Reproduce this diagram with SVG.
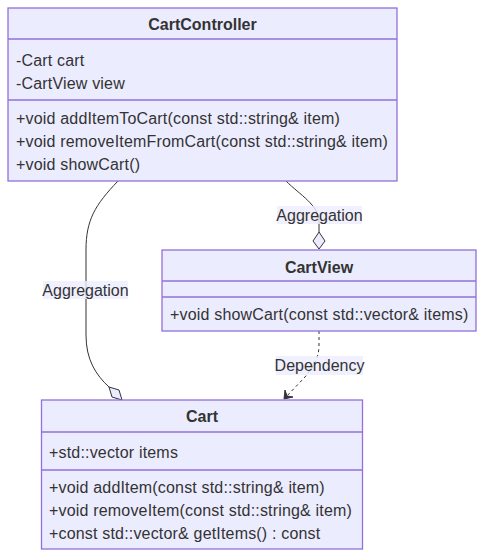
<svg xmlns="http://www.w3.org/2000/svg" width="484" height="558" viewBox="0 0 484 558">
<style>
.box{fill:#ECECFF;stroke:#9370DB;stroke-width:1.3}
.div{stroke:#9370DB;stroke-width:1.3}
text{font-family:"Liberation Sans",Arial,sans-serif;font-size:16px;fill:#333}
.m{letter-spacing:0.18px}
.t{font-weight:bold;text-anchor:middle}
.edge{fill:none;stroke:#333;stroke-width:1}
.dash{stroke-dasharray:3,3}
.lbg{fill:#ECECFF;opacity:0.8}
.lbl{text-anchor:middle}
</style>
<rect width="484" height="558" fill="#fff"/>
<g id="connectors">
<path class="edge" d="M118,181 C95,205 86,220 86,250 L86,335 C86,360 96,375 109,387"/>
<polygon points="109,387 119,390 122,400 112,397" fill="#ECECFF" stroke="#333" stroke-width="1"/>
<path class="edge" d="M286,181 C300,195 319,205 319,222 L319,232"/>
<polygon points="319,232 325,241 319,249 313,241" fill="#ECECFF" stroke="#333" stroke-width="1"/>
<path class="edge dash" d="M319,331 L319,345 C319,360 312,368 305,377 L285,398"/>
<path d="M285,390 L284,399 L293,397 L287,396 Z" fill="#333" stroke="#333" stroke-width="1"/>
<g id="lbl-agg1"><rect class="lbg" x="43" y="281" width="85" height="18"/><text class="lbl" x="85.5" y="296">Aggregation</text></g>
<g id="lbl-agg2"><rect class="lbg" x="277" y="206" width="85" height="18"/><text class="lbl" x="319.5" y="221">Aggregation</text></g>
<g id="lbl-dep"><rect class="lbg" x="276" y="356" width="87" height="19"/><text class="lbl" x="319.5" y="371">Dependency</text></g>
</g>
<g id="CartController">
<rect class="box" x="8" y="8" width="389" height="173"/>
<line class="div" x1="8" y1="39" x2="397" y2="39"/>
<line class="div" x1="8" y1="100" x2="397" y2="100"/>
<text class="t" x="202.5" y="30">CartController</text>
<text class="m" x="16" y="66">-Cart cart</text>
<text class="m" x="16" y="89">-CartView view</text>
<text class="m" x="16" y="124">+void addItemToCart(const std::string&amp; item)</text>
<text class="m" x="16" y="147">+void removeItemFromCart(const std::string&amp; item)</text>
<text class="m" x="16" y="170">+void showCart()</text>
</g>
<g id="CartView">
<rect class="box" x="162" y="250" width="314" height="81"/>
<line class="div" x1="162" y1="281" x2="476" y2="281"/>
<line class="div" x1="162" y1="297" x2="476" y2="297"/>
<text class="t" x="319" y="273">CartView</text>
<text class="m" x="170" y="320">+void showCart(const std::vector&amp; items)</text>
</g>
<g id="Cart">
<rect class="box" x="41.5" y="400" width="321" height="149"/>
<line class="div" x1="41.5" y1="432" x2="362.5" y2="432"/>
<line class="div" x1="41.5" y1="470" x2="362.5" y2="470"/>
<text class="t" x="202" y="422">Cart</text>
<text class="m" x="49" y="458">+std::vector items</text>
<text class="m" x="49" y="493">+void addItem(const std::string&amp; item)</text>
<text class="m" x="49" y="516">+void removeItem(const std::string&amp; item)</text>
<text class="m" x="49" y="539">+const std::vector&amp; getItems() : const</text>
</g>
</svg>
